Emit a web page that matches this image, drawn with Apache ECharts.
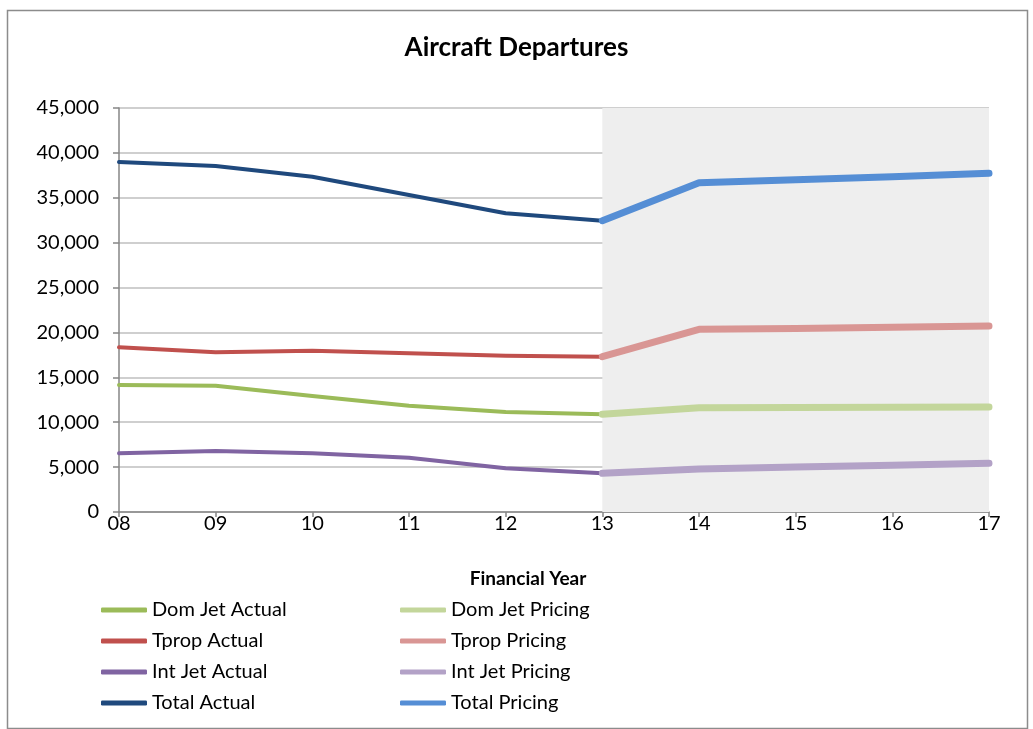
<!DOCTYPE html>
<html>
<head>
<meta charset="utf-8">
<script src="https://cdn.jsdelivr.net/npm/echarts@6/dist/echarts.min.js"></script>
<style>
  html,body{margin:0;padding:0;background:#fff;}
  #main{width:1033px;height:729px;}
</style>
</head>
<body>
<div id="main"></div>
<script>
// 数据
var years = ['08','09','10','11','12','13','14','15','16','17'];
var domJetActual  = [14150,14070,12920,11840,11140,10880,null,null,null,null];
var domJetPricing = [null,null,null,null,null,10880,11620,11650,11680,11700];
var tpropActual   = [18340,17790,17970,17670,17410,17300,null,null,null,null];
var tpropPricing  = [null,null,null,null,null,17300,20350,20450,20580,20720];
var intJetActual  = [6540,6790,6540,6050,4870,4310,null,null,null,null];
var intJetPricing = [null,null,null,null,null,4310,4790,5000,5200,5420];
var totalActual   = [38980,38540,37350,35300,33270,32450,null,null,null,null];
var totalPricing  = [null,null,null,null,null,32450,36680,37000,37350,37720];
var shadeFrom = '13', shadeTo = '17';

var font = 'Lato';
var mychart = echarts.init(document.getElementById('main'));

function mkLine(name, data, color, width, z){
  return {
    name: name, type: 'line', data: data, symbol: 'none',
    connectNulls: false, z: z,
    lineStyle: {color: color, width: width, cap: 'round', join: 'round'},
    itemStyle: {color: color}
  };
}

function mkLegend(left, names){
  return {
    orient: 'vertical', top: 595, left: left, data: names,
    itemWidth: 46, itemHeight: 5, icon: 'roundRect', itemGap: 11,
    textStyle: {fontFamily: font, fontSize: 20, color: '#000', padding: [0,0,0,0]}
  };
}

var option = {
  animation: false,
  backgroundColor: '#fff',
  textStyle: {fontFamily: font},
  title: {
    text: 'Aircraft Departures', left: 'center', top: 30,
    textStyle: {fontFamily: font, fontSize: 26, fontWeight: 'bold', color: '#000'}
  },
  graphic: [{
    type: 'rect', left: 5, top: 8,
    shape: {width: 1020, height: 718},
    style: {fill: 'none', stroke: '#8c8c8c', lineWidth: 1.5}, silent: true, z: -1
  }],
  legend: [
    mkLegend(96, ['Dom Jet Actual','Tprop Actual','Int Jet Actual','Total Actual']),
    mkLegend(395, ['Dom Jet Pricing','Tprop Pricing','Int Jet Pricing','Total Pricing'])
  ],
  grid: {left: 119, right: 44, top: 108, bottom: 217},
  xAxis: {
    type: 'category', data: years, boundaryGap: false,
    name: 'Financial Year', nameLocation: 'middle', nameGap: 57,
    nameTextStyle: {fontFamily: font, fontSize: 19, fontWeight: 'bold', color: '#000', padding: [0,52,0,0]},
    axisLine: {lineStyle: {color: '#868686', width: 1.5}},
    axisTick: {show: true, alignWithLabel: true, length: 5, lineStyle: {color: '#868686', width: 1.5}},
    axisLabel: {fontFamily: font, fontSize: 20, color: '#000', margin: 2},
    splitLine: {show: false}
  },
  yAxis: {
    type: 'value', min: 0, max: 45000, interval: 5000,
    axisLine: {show: true, lineStyle: {color: '#868686', width: 1.5}},
    axisTick: {show: true, length: 6, lineStyle: {color: '#868686', width: 1.5}},
    axisLabel: {
      fontFamily: font, fontSize: 20, color: '#000', margin: 20,
      formatter: function(v){ return v.toLocaleString('en-US'); }
    },
    splitLine: {lineStyle: {color: '#bfbfbf', width: 1.5}}
  },
  series: [
    mkLine('Dom Jet Actual', domJetActual, '#9bbb59', 4, 3),
    mkLine('Dom Jet Pricing', domJetPricing, '#c3d69b', 7, 4),
    mkLine('Tprop Actual', tpropActual, '#c0504d', 4, 3),
    mkLine('Tprop Pricing', tpropPricing, '#d99694', 7, 4),
    mkLine('Int Jet Actual', intJetActual, '#8064a2', 4, 3),
    mkLine('Int Jet Pricing', intJetPricing, '#b3a2c7', 7, 4),
    mkLine('Total Actual', totalActual, '#1f497d', 4, 3),
    mkLine('Total Pricing', totalPricing, '#558ed5', 7, 4)
  ]
};

// 灰色预测区域
option.series[0].markArea = {
  silent: true,
  itemStyle: {color: '#eeeeee'},
  data: [[{xAxis: shadeFrom}, {xAxis: shadeTo}]]
};

mychart.setOption(option);
</script>
</body>
</html>
